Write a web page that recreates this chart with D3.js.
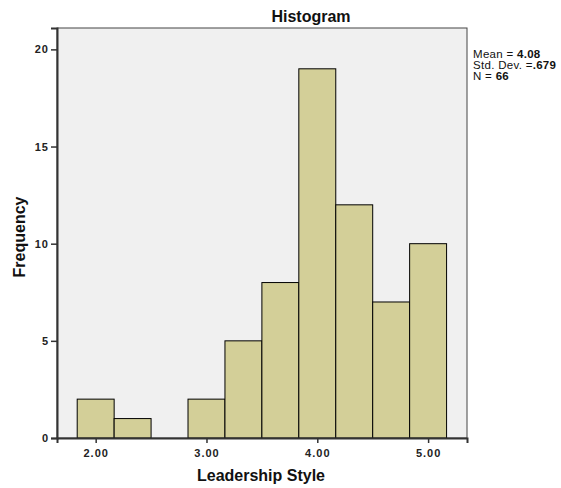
<!DOCTYPE html>
<html><head><meta charset="utf-8">
<script src="https://cdn.jsdelivr.net/npm/d3@7"></script>
<style>body{margin:0;background:#fff}text{font-family:"Liberation Sans",Arial,sans-serif}</style>
</head><body>
<svg id="c" width="561" height="488"></svg>
<script>
const binEdges = [1.8333,2.1667,2.5,2.8333,3.1667,3.5,3.8333,4.1667,4.5,4.8333,5.1667];
const frequencies = [2,1,0,2,5,8,19,12,7,10];
const xTicks = [2,3,4,5];
const yTicks = [0,5,10,15,20];
const stats = [["Mean = ","4.08"],["Std. Dev. =",".679"],["N = ","66"]];

const svg = d3.select("#c");
const L=57,R=467,T=28,B=438;
const x = d3.scaleLinear().domain([1.651,5.351]).range([L,R]);
const y = d3.scaleLinear().domain([0,21.1]).range([B,T]);

svg.append("rect").attr("x",L).attr("y",T).attr("width",R-L).attr("height",B-T)
  .attr("fill","#f0f0f0").attr("stroke","#444").attr("stroke-width",1);

const bins = frequencies.map((f,i)=>({x0:binEdges[i],x1:binEdges[i+1],f}));
svg.append("g").selectAll("rect").data(bins.filter(d=>d.f>0)).join("rect")
  .attr("x",d=>x(d.x0)).attr("width",d=>x(d.x1)-x(d.x0))
  .attr("y",d=>y(d.f)).attr("height",d=>y(0)-y(d.f))
  .attr("fill","#d3cf98").attr("stroke","#000").attr("stroke-width",1);

const xa = svg.append("g").attr("transform",`translate(0,${B})`)
  .call(d3.axisBottom(x).tickValues(xTicks).tickFormat(d3.format(".2f")).tickSize(5).tickPadding(6));
const ya = svg.append("g").attr("transform",`translate(${L},0)`)
  .call(d3.axisLeft(y).tickValues(yTicks).tickSize(6).tickPadding(2));
[xa,ya].forEach(a=>{
  a.select(".domain").attr("stroke","#333").attr("stroke-width",2);
  a.selectAll(".tick line").attr("stroke","#333").attr("stroke-width",1.5);
  a.selectAll(".tick text").attr("font-size",11).attr("font-weight","bold")
    .attr("fill","#222").style("letter-spacing","1px").attr("font-family","Liberation Sans, Arial, sans-serif");
});

svg.append("text").attr("x",311).attr("y",22).attr("text-anchor","middle")
  .attr("font-size",16).attr("font-weight","bold").attr("fill","#111").text("Histogram");
svg.append("text").attr("x",261).attr("y",481).attr("text-anchor","middle")
  .attr("font-size",16).attr("font-weight","bold").attr("fill","#111").text("Leadership Style");
svg.append("text").attr("transform","translate(25,237) rotate(-90)").attr("text-anchor","middle")
  .attr("font-size",16).attr("font-weight","bold").attr("fill","#111").text("Frequency");

const lg = svg.append("g");
stats.forEach((s,i)=>{
  const t = lg.append("text").attr("x",473).attr("y",58+i*11).attr("font-size",11.5)
    .attr("fill","#111").style("letter-spacing","0.3px");
  t.append("tspan").text(s[0]);
  t.append("tspan").attr("font-weight","bold").text(s[1]);
});
</script>
</body></html>
